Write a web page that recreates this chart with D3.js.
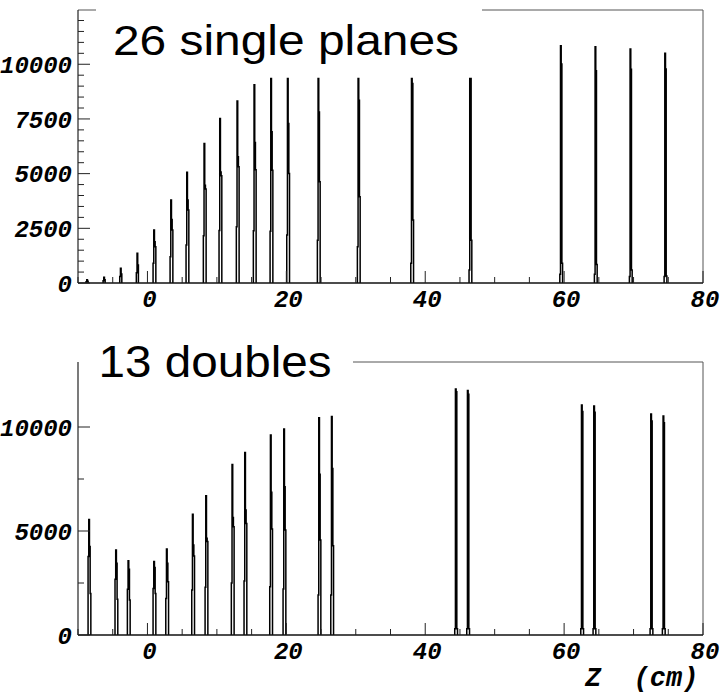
<!DOCTYPE html>
<html><head><meta charset="utf-8">
<script src="https://cdn.jsdelivr.net/npm/d3@7"></script>
<style>body{margin:0;background:#fff}</style>
</head><body>
<svg id="c" width="722" height="693"></svg>
<script>
// Hit profile along Z: each plane is a short run of fine bins (width binWidth, cm).
// z = left edge of the tallest bin; bins start one bin before it.
const binWidth = 0.1;

const singleZ = [-8.74, -6.29, -3.89, -1.50, 0.91, 3.36, 5.66, 8.15, 10.41, 12.90,
  15.35, 17.76, 20.16, 24.57, 30.33, 38.02, 46.41, 59.48, 64.46, 69.50, 74.50];
const singleBins = [
  [60, 150, 80], [100, 260, 150], [300, 670, 410], [470, 1360, 820],
  [900, 2420, 1890, 1660], [1200, 3790, 2900, 2420], [1740, 5060, 3790, 3340],
  [2160, 6380, 4470, 4300], [2400, 7520, 5080, 4900], [2570, 8320, 5770, 5310],
  [2390, 9060, 6420, 5180], [2370, 9350, 6910, 5160], [2190, 9350, 7290, 5010],
  [1960, 9350, 7820, 4630], [1660, 9350, 8360, 3940], [900, 9350, 9120, 2880],
  [590, 9350, 9350, 1960], [400, 10850, 10010, 900], [400, 10800, 9700, 850],
  [300, 10700, 9770, 590], [300, 10500, 9780, 320]
];

const doubleZ = [-8.45, -4.57, -2.79, 0.91, 2.74, 6.48, 8.40, 12.18, 14.01, 17.71,
  19.63, 24.67, 26.50, 44.35, 46.08, 62.50, 64.27, 72.48, 74.25];
const doubleBins = [
  [3780, 5550, 4250, 2000], [2680, 4090, 3450, 1720], [2200, 3570, 3160, 1680],
  [2240, 3530, 3250, 2000], [1760, 4130, 3450, 2560], [2160, 5800, 4330, 3800],
  [2290, 6700, 4650, 4500], [2500, 8200, 5650, 5210], [2600, 8780, 6010, 5360],
  [2320, 9620, 6860, 5100], [2210, 9900, 7130, 5050], [1920, 10450, 7730, 4570],
  [1920, 10500, 8010, 4290], [300, 11830, 11700, 300], [300, 11750, 11570, 300],
  [300, 11060, 10740, 300], [300, 11010, 10710, 300], [300, 10630, 10290, 300],
  [300, 10530, 10210, 300]
];

// Axis ticks and labels
const zDomain = [-10, 80];
const zTicks = d3.range(-10, 81, 5);
const zLabels = [0, 20, 40, 60, 80];
const singleYMax = 12480, doubleYMax = 13125;
const singleYTicks = d3.range(0, 12001, 500);
const singleYLabels = [0, 2500, 5000, 7500, 10000];
const doubleYTicks = [0, 2500, 5000, 7500, 10000];
const doubleYLabels = [0, 5000, 10000];

const titles = ["26 single planes", "13 doubles"];
const zTitle = "Z  (cm)";

const svg = d3.select("#c");
const tickFont = "'Liberation Mono', 'Courier New', monospace";

function panel(opt) {
  const g = svg.append("g");
  const x = d3.scaleLinear().domain(zDomain).range([78, 703]);
  const y = d3.scaleLinear().domain([0, opt.yMax]).range([opt.bottom, opt.top]);

  // frame (top and right), partly hidden by the title
  g.append("path")
    .attr("d", opt.frame)
    .attr("fill", "none").attr("stroke", "#555").attr("stroke-width", 1);

  // histogram outline
  const line = d3.line().x(d => x(d[0])).y(d => y(d[1]));
  opt.z.forEach((z, i) => {
    const b = opt.bins[i];
    const x0 = z - binWidth;
    const pts = [[x0, 0]];
    b.forEach((v, k) => { pts.push([x0 + k * binWidth, v]); pts.push([x0 + (k + 1) * binWidth, v]); });
    pts.push([x0 + b.length * binWidth, 0]);
    g.append("path").attr("d", line(pts))
      .attr("fill", "none").attr("stroke", "#000").attr("stroke-width", 1.5);
  });

  // axes lines
  g.append("line").attr("x1", 78).attr("x2", 78).attr("y1", opt.top).attr("y2", opt.bottom)
    .attr("stroke", "#222").attr("stroke-width", 1.2);
  g.append("line").attr("x1", 78).attr("x2", 703).attr("y1", opt.bottom).attr("y2", opt.bottom)
    .attr("stroke", "#111").attr("stroke-width", 1.4);

  // y ticks pointing inward
  opt.yTicks.forEach(v => {
    const len = opt.yLabels.includes(v) ? 12 : 6;
    g.append("line").attr("x1", 78).attr("x2", 78 + len).attr("y1", y(v)).attr("y2", y(v))
      .attr("stroke", "#222").attr("stroke-width", 1);
  });
  // z ticks pointing up
  zTicks.forEach(v => {
    const len = v % 20 === 0 ? 12 : 6;
    g.append("line").attr("x1", x(v)).attr("x2", x(v)).attr("y1", opt.bottom).attr("y2", opt.bottom - len)
      .attr("stroke", "#222").attr("stroke-width", 1);
  });

  // labels
  opt.yLabels.forEach(v => {
    g.append("text").attr("x", 72).attr("y", y(v)).attr("dy", "0.36em")
      .attr("text-anchor", "end").attr("font-family", tickFont)
      .attr("font-weight", "bold").attr("font-style", "italic").attr("font-size", 24)
      .text(v);
  });
  zLabels.forEach(v => {
    g.append("text").attr("x", x(v) + 2).attr("y", opt.bottom + 15).attr("dy", "0.36em")
      .attr("text-anchor", "middle").attr("font-family", tickFont)
      .attr("font-weight", "bold").attr("font-style", "italic").attr("font-size", 24)
      .text(v);
  });

  // title
  g.append("text").attr("x", opt.titleX).attr("y", opt.titleY)
    .attr("font-family", "'Liberation Sans', Arial, sans-serif").attr("font-size", opt.titleSize)
    .attr("textLength", opt.titleLen).attr("lengthAdjust", "spacingAndGlyphs")
    .text(opt.title);
  return { g, x, y };
}

panel({
  z: singleZ, bins: singleBins, yMax: singleYMax, top: 10, bottom: 283,
  yTicks: singleYTicks, yLabels: singleYLabels,
  frame: "M78,10H96M482,10H703V283",
  title: titles[0], titleX: 113, titleY: 55, titleSize: 42, titleLen: 346
});
panel({
  z: doubleZ, bins: doubleBins, yMax: doubleYMax, top: 362, bottom: 635,
  yTicks: doubleYTicks, yLabels: doubleYLabels,
  frame: "M353,362H703V635",
  title: titles[1], titleX: 98.5, titleY: 377, titleSize: 44, titleLen: 233
});

svg.append("text").attr("x", 585).attr("y", 676).attr("dy", "0.36em")
  .attr("font-family", tickFont).attr("font-weight", "bold").attr("font-style", "italic")
  .attr("font-size", 27).style("white-space", "pre").text(zTitle);
</script>
</body></html>
